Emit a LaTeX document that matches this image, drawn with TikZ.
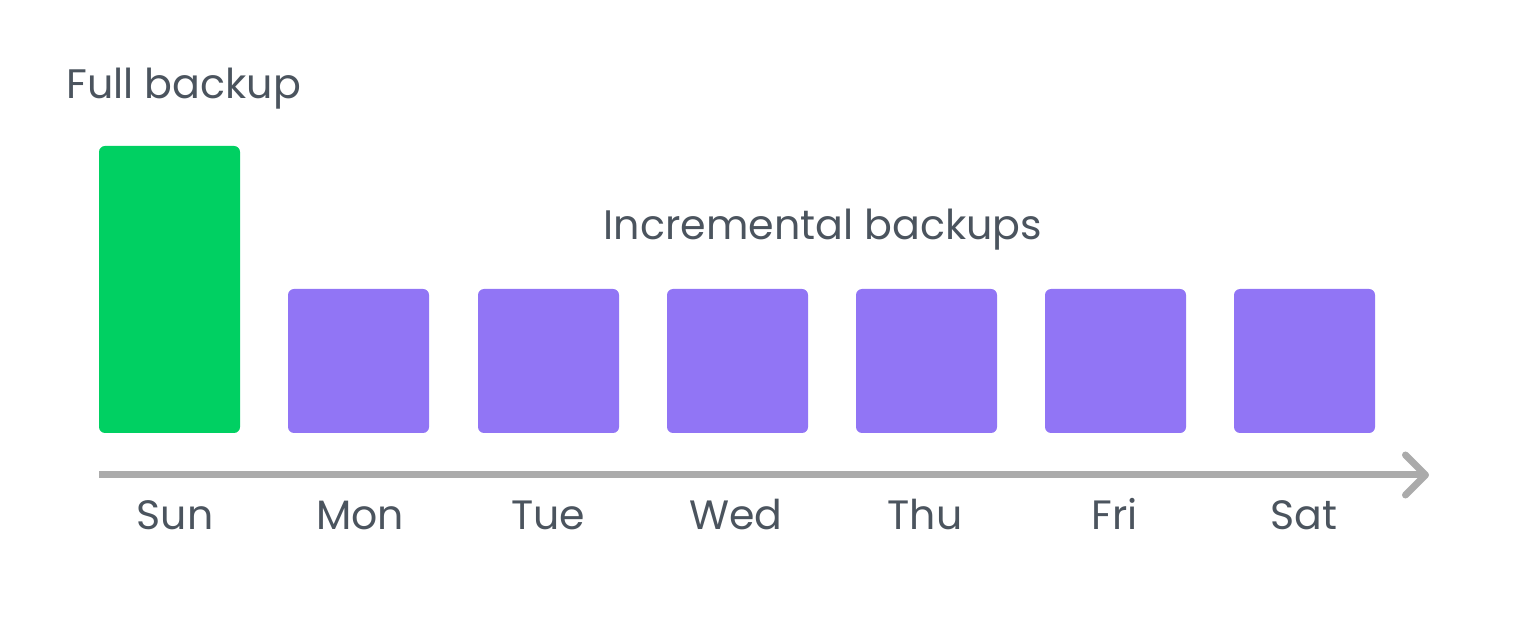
\documentclass[tikz,border=0pt]{standalone}
\usepackage{fontspec}
\setmainfont{Poppins}
\usetikzlibrary{arrows.meta}
\definecolor{txt}{HTML}{4B545E}
\definecolor{fullg}{HTML}{00D062}
\definecolor{incp}{HTML}{9175F5}
\definecolor{axisg}{HTML}{ABABAB}
\begin{document}
\begin{tikzpicture}[x=0.5pt,y=-0.5pt,
  lbl/.style={text=txt,inner sep=0pt,font=\fontsize{20.5pt}{24pt}\selectfont},
  title/.style={text=txt,inner sep=0pt,font=\fontsize{20.6pt}{24pt}\selectfont},
  fullbox/.style={fill=fullg,rounded corners=3pt},
  incbox/.style={fill=incp,rounded corners=3pt}]
\useasboundingbox (0,0) rectangle (1519,624);
\fill[fullbox] (99,146) rectangle (240,433);
\foreach \x/\n in {288/mon,478/tue,667/wed,856/thu,1045/fri,1234/sat}{
  \fill[incbox] (\x,289) rectangle ++(141,144);
}
\coordinate (a0) at (99,475);
\coordinate (a1) at (1429,475);
\draw[axisg,line width=3.5pt,-{Straight Barb[length=10pt,width=20pt,line width=3.5pt,round]}] (a0) -- (a1);
\node[title,anchor=base west] (full) at (66,99) {Full backup};
\node[title,anchor=base] (inc) at (823,240) {Incremental backups};
\foreach \x/\d in {175/Sun,360/Mon,548/Tue,736/Wed,925/Thu,1115/Fri,1304/Sat}{
  \node[lbl,anchor=base] (d\d) at (\x,530) {\d};
}
\end{tikzpicture}
\end{document}
